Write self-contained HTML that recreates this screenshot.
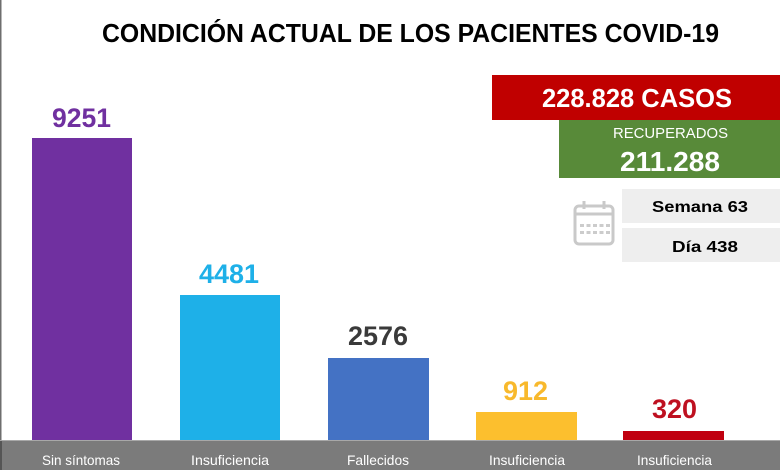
<!DOCTYPE html>
<html>
<head>
<meta charset="utf-8">
<style>
  html,body{margin:0;padding:0;background:#fff;}
  svg{display:block;}
  text{font-family:"Liberation Sans", Arial, sans-serif;}
</style>
</head>
<body>
<svg width="780" height="470" viewBox="0 0 780 470" xmlns="http://www.w3.org/2000/svg">
  <rect x="0" y="0" width="780" height="470" fill="#ffffff"/>
  <!-- left border -->
  <rect x="0" y="0" width="1.5" height="470" fill="#6e6e6e"/>

  <!-- title -->
  <text x="102" y="42" font-size="26" font-weight="bold" fill="#000" textLength="617" lengthAdjust="spacingAndGlyphs">CONDICIÓN ACTUAL DE LOS PACIENTES COVID-19</text>

  <!-- red box -->
  <rect x="492" y="75" width="288" height="45" fill="#c00000"/>
  <text x="542" y="107" font-size="26" font-weight="bold" fill="#fff" textLength="190" lengthAdjust="spacingAndGlyphs">228.828 CASOS</text>

  <!-- green box -->
  <rect x="559" y="120" width="221" height="58" fill="#588a39"/>
  <text x="613" y="138" font-size="15" fill="#fff" textLength="115" lengthAdjust="spacingAndGlyphs">RECUPERADOS</text>
  <text x="620" y="171" font-size="28" font-weight="bold" fill="#fff" textLength="100" lengthAdjust="spacingAndGlyphs">211.288</text>

  <!-- gray boxes -->
  <rect x="622" y="189" width="158" height="34" fill="#eeeeee"/>
  <rect x="622" y="228" width="158" height="34" fill="#eeeeee"/>
  <text x="652" y="212" font-size="16" font-weight="bold" fill="#000" textLength="96" lengthAdjust="spacingAndGlyphs">Semana 63</text>
  <text x="672" y="252" font-size="16" font-weight="bold" fill="#000" textLength="66" lengthAdjust="spacingAndGlyphs">Día 438</text>

  <!-- calendar icon -->
  <g stroke="#c9c9c9" fill="none" stroke-width="3">
    <rect x="575" y="206" width="38" height="38" rx="4"/>
    <line x1="575" y1="214" x2="613" y2="214"/>
    <line x1="584" y1="201" x2="584" y2="209"/>
    <line x1="604" y1="201" x2="604" y2="209"/>
  </g>
  <g fill="#cccccc">
    <rect x="580" y="224" width="4" height="3"/>
    <rect x="586.5" y="224" width="4" height="3"/>
    <rect x="593" y="224" width="4" height="3"/>
    <rect x="599.5" y="224" width="4" height="3"/>
    <rect x="606" y="224" width="4" height="3"/>
    <rect x="580" y="231" width="4" height="3"/>
    <rect x="586.5" y="231" width="4" height="3"/>
    <rect x="593" y="231" width="4" height="3"/>
    <rect x="599.5" y="231" width="4" height="3"/>
    <rect x="606" y="231" width="4" height="3"/>
  </g>

  <!-- bars -->
  <rect x="32" y="138" width="100" height="303" fill="#7030a0"/>
  <rect x="180" y="295" width="100" height="146" fill="#1eb0e8"/>
  <rect x="328" y="358" width="101" height="83" fill="#4472c4"/>
  <rect x="476" y="412" width="101" height="29" fill="#fcbf2e"/>
  <rect x="623" y="431" width="101" height="10" fill="#c00010"/>

  <!-- value labels -->
  <text x="52" y="127" font-size="27" font-weight="bold" fill="#7030a0" textLength="59" lengthAdjust="spacingAndGlyphs">9251</text>
  <text x="199" y="283" font-size="27" font-weight="bold" fill="#1eb0e8" textLength="60" lengthAdjust="spacingAndGlyphs">4481</text>
  <text x="348" y="345" font-size="27" font-weight="bold" fill="#3a3a3a" textLength="60" lengthAdjust="spacingAndGlyphs">2576</text>
  <text x="503" y="400" font-size="27" font-weight="bold" fill="#f8b92c" textLength="45" lengthAdjust="spacingAndGlyphs">912</text>
  <text x="652" y="418" font-size="27" font-weight="bold" fill="#be1020" textLength="45" lengthAdjust="spacingAndGlyphs">320</text>

  <!-- bottom band -->
  <rect x="0" y="441" width="780" height="29" fill="#7b7b7b"/>
  <rect x="0" y="440" width="780" height="1" fill="#a8a8a8"/>
  <rect x="0" y="441" width="2" height="29" fill="#555"/>

  <text x="42" y="465" font-size="14" fill="#fff" textLength="78" lengthAdjust="spacingAndGlyphs">Sin síntomas</text>
  <text x="191" y="465" font-size="14" fill="#fff" textLength="78" lengthAdjust="spacingAndGlyphs">Insuficiencia</text>
  <text x="347" y="465" font-size="14" fill="#fff" textLength="62" lengthAdjust="spacingAndGlyphs">Fallecidos</text>
  <text x="489" y="465" font-size="14" fill="#fff" textLength="76" lengthAdjust="spacingAndGlyphs">Insuficiencia</text>
  <text x="637" y="465" font-size="14" fill="#fff" textLength="75" lengthAdjust="spacingAndGlyphs">Insuficiencia</text>
</svg>
</body>
</html>
